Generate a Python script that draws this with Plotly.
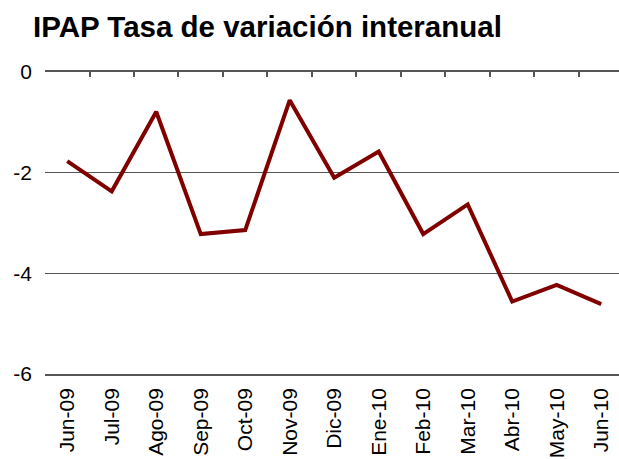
import plotly.graph_objects as go

categories = ["Jun-09", "Jul-09", "Ago-09", "Sep-09", "Oct-09", "Nov-09", "Dic-09",
              "Ene-10", "Feb-10", "Mar-10", "Abr-10", "May-10", "Jun-10"]
values = [-1.77, -2.37, -0.79, -3.22, -3.14, -0.56, -2.10,
          -1.58, -3.22, -2.63, -4.56, -4.23, -4.61]
y_ticks = [0, -2, -4, -6]

FONT = "Liberation Sans, Arial, sans-serif"

fig = go.Figure()
fig.add_trace(go.Scatter(x=categories, y=values, mode="lines",
                         line=dict(color="#800000", width=4), xaxis="x", yaxis="y",
                         showlegend=False, hoverinfo="x+y"))
# invisible trace on top axis to draw boundary ticks along zero line
fig.add_trace(go.Scatter(x=categories, y=values, mode="lines",
                         line=dict(color="rgba(0,0,0,0)", width=0), xaxis="x2", yaxis="y",
                         showlegend=False, hoverinfo="skip"))

xr = [-0.5, 12.4]
fig.update_layout(
    width=619, height=459,
    margin=dict(l=45, r=0, t=72, b=85, autoexpand=False),
    paper_bgcolor="white", plot_bgcolor="white",
    title=dict(text="<b>IPAP Tasa de variación interanual</b>",
               font=dict(family=FONT, size=29.5, color="black"),
               x=33/619, xanchor="left", y=1-37/459, yanchor="bottom"),
    xaxis=dict(type="category", range=xr, showgrid=False, ticks="",
               tickangle=-90, tickfont=dict(family=FONT, size=21, color="black"),
               ticklabelstandoff=4, automargin=False,
               showline=True, linecolor="#555555", linewidth=1.5, zeroline=False),
    xaxis2=dict(type="category", range=xr, overlaying="x", side="top", showgrid=False,
                showticklabels=False, ticks="inside", ticklen=5, tickwidth=1.5,
                tickcolor="#555555", tickson="boundaries", showline=True,
                linecolor="#555555", linewidth=1.5),
    yaxis=dict(range=[-6, 0], tickvals=y_ticks, ticktext=[str(v) for v in y_ticks],
               showgrid=True, gridcolor="#555555", gridwidth=1.2, zeroline=False,
               ticks="", ticklabelstandoff=12, automargin=False,
               tickfont=dict(family=FONT, size=21, color="black"), showline=False),
)
fig.write_html("out.html", config={"displayModeBar": False},
               post_script="document.body.style.margin='0';")
